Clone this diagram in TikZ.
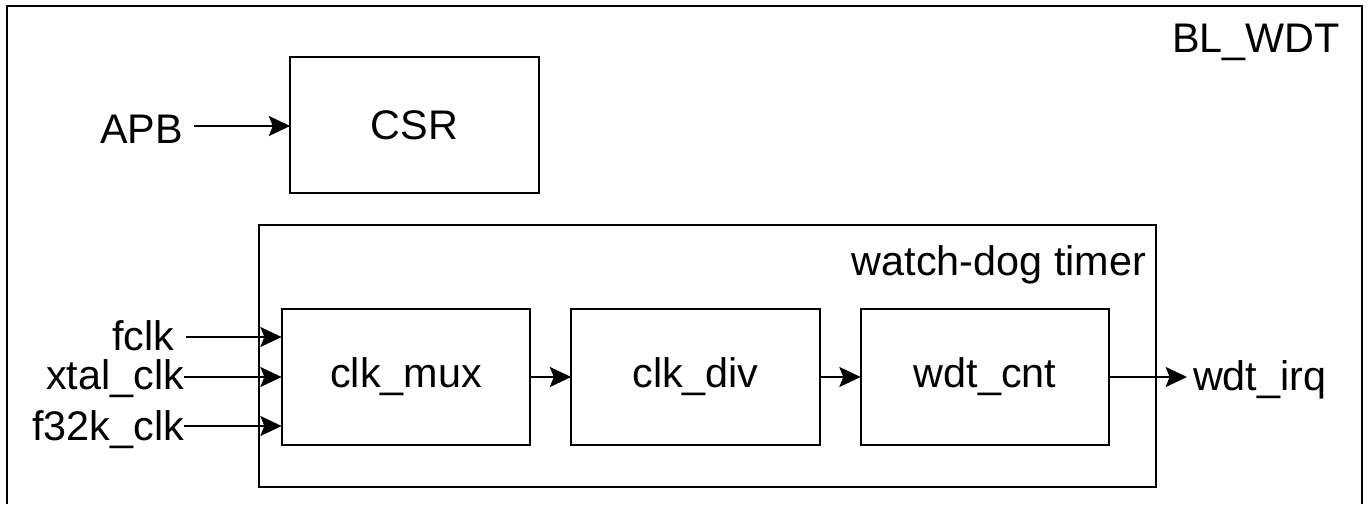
\documentclass[tikz,border=0pt]{standalone}
\usepackage{fontspec}
\setmainfont{Liberation Sans}
\usetikzlibrary{arrows.meta}
\begin{document}
\begin{tikzpicture}[x=0.75pt,y=-0.75pt,
  line width=1.4pt,
  every node/.style={font=\fontsize{31pt}{36pt}\selectfont},
  blk/.style={draw,line width=1.4pt,minimum width=186.5pt,minimum height=102pt,inner sep=0pt,outer sep=0pt},
  lbl/.style={inner sep=0pt,outer sep=0pt},
  arr/.style={-{Stealth[length=16pt,width=15pt,inset=3pt]},line width=1.4pt}]
\useasboundingbox (0,0) rectangle (1368,504);
% outer container (bottom edge out of view)
\draw (7,504) -- (7,6) -- (1362,6) -- (1362,504);
\node[lbl,anchor=base east] (blwdt) at (1340,52) {BL\_WDT};
% CSR
\node[blk] (csr) at (414.5,125) {CSR};
\node[lbl,anchor=base east] (apb) at (183,143) {APB};
\coordinate (apbout) at (194,126);
\draw[arr] (apbout) -- (apbout -| csr.west);
% watch-dog timer container
\node[draw,line width=1.4pt,minimum width=672.75pt,minimum height=196.5pt,inner sep=0pt,outer sep=0pt] (wdt) at (707.5,356) {};
\node[lbl,anchor=base east] (wdtlbl) at (1146,275) {watch-dog timer};
% blocks
\node[blk] (mux) at (406,377) {clk\_mux};
\node[blk] (div) at (695.5,377) {clk\_div};
\node[blk] (cnt) at (985,377) {wdt\_cnt};
\draw[arr] (mux.east) -- (div.west);
\draw[arr] (div.east) -- (cnt.west);
% inputs
\node[lbl,anchor=base east] (fclk) at (174,350) {fclk};
\node[lbl,anchor=base east] (xtal) at (184,389) {xtal\_clk};
\node[lbl,anchor=base east] (f32k) at (184,440) {f32k\_clk};
\coordinate (fclkout) at (186,337);
\coordinate (xtalout) at (184,377);
\coordinate (f32kout) at (184,426);
\draw[arr] (fclkout) -- (fclkout -| mux.west);
\draw[arr] (xtalout) -- (xtalout -| mux.west);
\draw[arr] (f32kout) -- (f32kout -| mux.west);
% output
\node[lbl,anchor=base west] (irq) at (1193,390) {wdt\_irq};
\coordinate (irqin) at (1187,377);
\draw[arr] (cnt.east) -- (irqin);
\end{tikzpicture}
\end{document}
